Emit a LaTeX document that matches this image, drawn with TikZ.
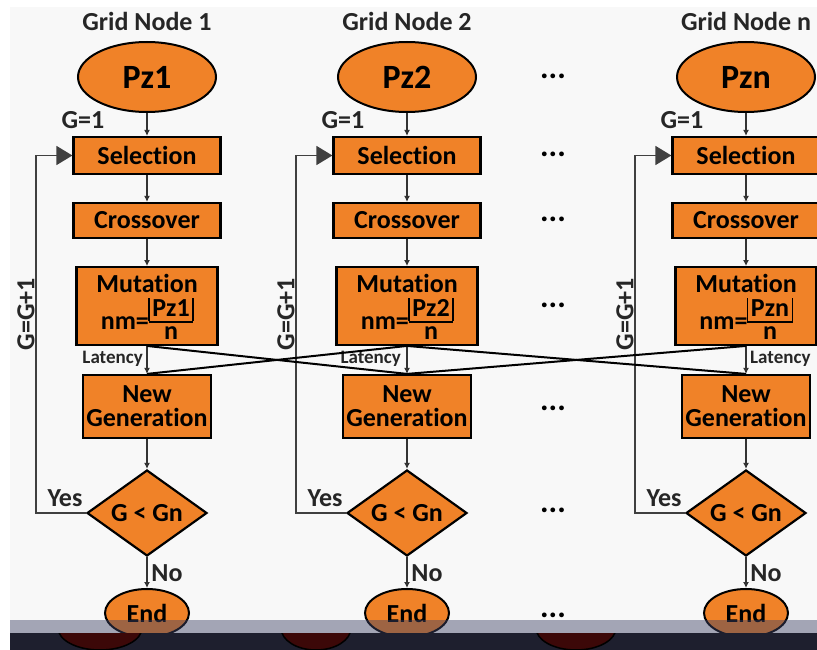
\documentclass[tikz,border=0pt]{standalone}
\usepackage{fontspec}
\setmainfont{Carlito}[Ligatures=NoCommon]
\usepackage{amsmath}
\usetikzlibrary{shapes.geometric,arrows.meta,positioning}

\definecolor{gaorange}{RGB}{240,130,40}
\definecolor{gaback}{RGB}{248,248,248}
\definecolor{bandgray}{RGB}{60,65,100}
\definecolor{banddark}{RGB}{30,31,46}
\definecolor{shadowred}{RGB}{60,8,8}

\newcommand{\floorfrac}[2]{\raisebox{-10pt}{\setlength{\arrayrulewidth}{1.6pt}\setlength{\tabcolsep}{3.5pt}%
  \renewcommand{\arraystretch}{0.75}\begin{tabular}[b]{|c|}\rule{0pt}{18pt}{\fontsize{26}{22}\selectfont #1}\\\hline
  \multicolumn{1}{c}{\rule{0pt}{17pt}#2}\end{tabular}}}

\begin{document}
\begin{tikzpicture}[x=1pt,y=-1pt,
    font=\bfseries\fontsize{26}{22}\selectfont,
    stage/.style={draw=black, line width=2.2pt, fill=gaorange, inner sep=0pt, align=center},
    start/.style={ellipse, draw=black, line width=2pt, fill=gaorange, inner sep=0pt},
    test/.style={diamond, aspect=1.4, draw=black, line width=2.2pt, fill=gaorange, inner sep=0pt,
                 minimum width=120pt, minimum height=86pt},
    flow/.style={draw=black!80, line width=1.2pt, -{Latex[length=6pt,width=6pt]}},
    loopback/.style={draw=black!75, line width=1.6pt, -{Triangle[length=16pt,width=19pt]}},
    exchange/.style={draw=black, line width=2pt},
    lbl/.style={text=black!85, inner sep=0pt},
    small/.style={lbl, font=\bfseries\fontsize{19}{19}\selectfont},
    dots/.style={font=\bfseries\fontsize{32}{32}\selectfont, inner sep=0pt, anchor=base}]
    \useasboundingbox (0,0) rectangle (817,650);
    \clip (0,0) rectangle (817,650);

    % Background
    \fill[white] (0,0) rectangle (817,650);
    \fill[gaback] (10,7) rectangle (817,650);

    % One column per grid node
    \foreach \col/\x/\la/\lx in {1/147/east/-4, 2/407/east/-6, n/746/west/+4} {
        \node[lbl, anchor=base] (head\col) at (\x,31) {Grid Node \col};
        \node[start, minimum width=138pt, minimum height=70pt,
              font=\bfseries\fontsize{34}{34}\selectfont] (pz\col) at (\x,77) {Pz\col};
        \node[lbl] (init\col) at (\x-64,120) {G=1};

        \node[stage, minimum width=147pt, minimum height=37pt] (sel\col) at (\x,155.5) {Selection};
        \node[stage, minimum width=147pt, minimum height=35pt] (cro\col) at (\x,220.5) {Crossover};
        \node[stage, minimum width=141pt, minimum height=76pt] (mut\col) at (\x,306)
            {\rule{0pt}{25pt}Mutation\\[5pt]nm=\floorfrac{Pz\col}{n}};
        \node[stage, minimum width=128pt, minimum height=63pt,
              font=\bfseries\fontsize{26}{24}\selectfont] (new\col) at (\x,406.5) {New\\Generation};
        \node[test] (dec\col) at (\x,513) {G < Gn};
        \node[start, minimum width=84pt, minimum height=48pt] (end\col) at (\x,613) {End};

        \node[small, anchor=\la] (lat\col) at (\x\lx,359) {Latency};
        \node[lbl, rotate=90] (iter\col) at (\x-121,314) {G=G+1};
        \node[lbl] (yes\col) at (\x-82,498) {Yes};
        \node[lbl] (no\col) at (\x+20,573) {No};

        \draw[flow] (pz\col) -- (sel\col);
        \draw[flow] (sel\col) -- (cro\col);
        \draw[flow] (cro\col) -- (mut\col);
        \draw[flow] (mut\col) -- (new\col);
        \draw[flow] (new\col) -- (dec\col);
        \draw[flow] (dec\col) -- (end\col);
        \draw[loopback] (dec\col.west) -- ++(-50,0) |- (sel\col.west);
    }

    % Exchange between grid nodes
    \draw[exchange] (mut1.south) -- (new2.north);
    \draw[exchange] (mut2.south) -- (new1.north);
    \draw[exchange] (mut2.south) -- (newn.north);
    \draw[exchange] (mutn.south) -- (new2.north);

    % Gaps between node 2 and node n
    \foreach \y in {77,155,220,305,408,510,615}
        \node[dots] (gap\y) at (553,\y+2) {...};

    % Bottom bands
    \fill[bandgray, opacity=0.45] (10,620) rectangle (817,633);
    \fill[banddark] (10,633) rectangle (817,650);
    \begin{scope}
        \clip (10,633) rectangle (817,650);
        \foreach \sx/\rx in {100/42,316/35,576/40}
            \draw[fill=shadowred, line width=1.5pt] (\sx,628) ellipse [x radius=\rx pt, y radius=22pt];
    \end{scope}
\end{tikzpicture}
\end{document}
